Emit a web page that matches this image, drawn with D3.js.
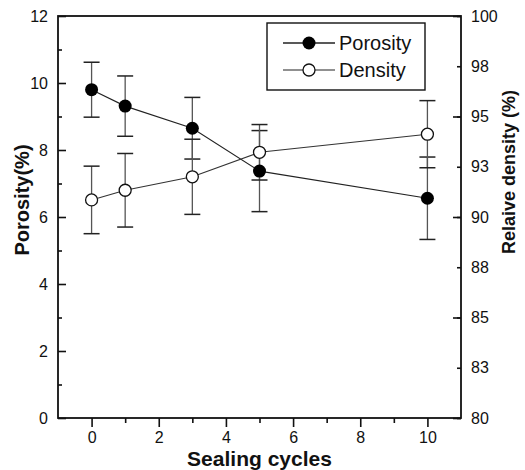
<!DOCTYPE html>
<html><head><meta charset="utf-8">
<script src="https://cdn.jsdelivr.net/npm/d3@7/dist/d3.min.js"></script>
<style>
html,body{margin:0;padding:0;background:#fff;}
svg{display:block;font-family:"Liberation Sans",Arial,sans-serif;}
</style></head>
<body><svg id="chart" width="525" height="470"></svg>
<script>
const cycles = [0, 1, 3, 5, 10];
const porosity = [9.8, 9.31, 8.65, 7.37, 6.56];
const porosityErr = [0.82, 0.9, 0.92, 1.21, 1.23];
const density = [90.85, 91.33, 92.0, 93.22, 94.12];
const densityErr = [1.68, 1.83, 1.87, 1.38, 1.67];
const xTickValues = [0, 2, 4, 6, 8, 10];
const xMinorValues = [1, 3, 5, 7, 9];
const leftTickValues = [0, 2, 4, 6, 8, 10, 12];
const leftMinorValues = [1, 3, 5, 7, 9, 11];
const rightTickValues = [80, 82.5, 85, 87.5, 90, 92.5, 95, 97.5, 100];
const rightTickLabels = ["80", "83", "85", "88", "90", "93", "95", "98", "100"];
const rightMajorValues = [80, 85, 90, 95, 100];
const seriesNames = ["Porosity", "Density"];

const W = 525, H = 470;
const m = {left: 58, right: 64, top: 16, bottom: 52};
const svg = d3.select("#chart");
const x = d3.scaleLinear().domain([-1, 11]).range([m.left, W - m.right]);
const yL = d3.scaleLinear().domain([0, 12]).range([H - m.bottom, m.top]);
const yR = d3.scaleLinear().domain([80, 100]).range([H - m.bottom, m.top]);

const ink = "#111";
function styleAxis(g){
  g.select(".domain").remove();
  g.selectAll(".tick line").attr("stroke", ink).attr("stroke-width", 1.6);
  g.selectAll(".tick text").attr("fill", ink).attr("font-size", 16)
   .attr("font-family", '"Liberation Sans", Arial, sans-serif');
}

// frame
svg.append("rect").attr("x", m.left).attr("y", m.top)
  .attr("width", W - m.left - m.right).attr("height", H - m.top - m.bottom)
  .attr("fill", "none").attr("stroke", ink).attr("stroke-width", 1.8);

// x axis
svg.append("g").attr("transform", `translate(0,${H - m.bottom})`)
  .call(d3.axisBottom(x).tickValues(xTickValues).tickSize(9).tickPadding(5).tickFormat(d3.format("d")))
  .call(styleAxis);
svg.append("g").attr("transform", `translate(0,${H - m.bottom})`)
  .call(d3.axisBottom(x).tickValues(xMinorValues).tickSize(5).tickFormat(""))
  .call(styleAxis);

// left axis
svg.append("g").attr("transform", `translate(${m.left},0)`)
  .call(d3.axisLeft(yL).tickValues(leftTickValues).tickSizeInner(-8).tickSizeOuter(0).tickPadding(10).tickFormat(d3.format("d")))
  .call(styleAxis);
svg.append("g").attr("transform", `translate(${m.left},0)`)
  .call(d3.axisLeft(yL).tickValues(leftMinorValues).tickSizeInner(-4).tickSizeOuter(0).tickFormat(""))
  .call(styleAxis);

// right axis
svg.append("g").attr("transform", `translate(${W - m.right},0)`)
  .call(d3.axisRight(yR).tickValues(rightTickValues).tickSizeInner(-4).tickSizeOuter(0).tickPadding(10)
    .tickFormat((d, i) => rightTickLabels[i]))
  .call(styleAxis);
svg.append("g").attr("transform", `translate(${W - m.right},0)`)
  .call(d3.axisRight(yR).tickValues(rightMajorValues).tickSizeInner(-8).tickSizeOuter(0).tickFormat(""))
  .call(styleAxis);

// axis titles
svg.append("text").attr("x", (m.left + W - m.right) / 2).attr("y", 466)
  .attr("text-anchor", "middle").attr("font-weight", "bold").attr("font-size", 21)
  .attr("font-family", "Arial, 'Liberation Sans', sans-serif").attr("fill", ink).text("Sealing cycles");
svg.append("text").attr("transform", "translate(29,200) rotate(-90)")
  .attr("text-anchor", "middle").attr("font-weight", "bold").attr("font-size", 20)
  .attr("fill", ink).text("Porosity(%)");
svg.append("text").attr("transform", "translate(515,172) rotate(-90)")
  .attr("text-anchor", "middle").attr("font-weight", "bold").attr("font-size", 18)
  .attr("fill", ink).text("Relaive density (%)");

const porData = cycles.map((c, i) => ({x: c, y: porosity[i], e: porosityErr[i]}));
const denData = cycles.map((c, i) => ({x: c, y: density[i], e: densityErr[i]}));

function drawErr(data, ys){
  const g = svg.append("g");
  g.selectAll("line.v").data(data).join("line")
    .attr("x1", d => x(d.x)).attr("x2", d => x(d.x))
    .attr("y1", d => ys(d.y + d.e)).attr("y2", d => ys(d.y - d.e))
    .attr("stroke", "#555").attr("stroke-width", 1.3);
  [1, -1].forEach(s => {
    g.selectAll(null).data(data).join("line")
      .attr("x1", d => x(d.x) - 8).attr("x2", d => x(d.x) + 8)
      .attr("y1", d => ys(d.y + s * d.e)).attr("y2", d => ys(d.y + s * d.e))
      .attr("stroke", "#222").attr("stroke-width", 1.5);
  });
}
drawErr(porData, yL);
drawErr(denData, yR);

const lineL = d3.line().x(d => x(d.x)).y(d => yL(d.y));
const lineR = d3.line().x(d => x(d.x)).y(d => yR(d.y));
svg.append("path").attr("d", lineL(porData)).attr("fill", "none").attr("stroke", "#222").attr("stroke-width", 1.1);
svg.append("path").attr("d", lineR(denData)).attr("fill", "none").attr("stroke", "#333").attr("stroke-width", 1.1);

svg.append("g").selectAll("circle").data(porData).join("circle")
  .attr("cx", d => x(d.x)).attr("cy", d => yL(d.y)).attr("r", 6.5).attr("fill", "#000");
svg.append("g").selectAll("circle").data(denData).join("circle")
  .attr("cx", d => x(d.x)).attr("cy", d => yR(d.y)).attr("r", 6).attr("fill", "#fff")
  .attr("stroke", "#111").attr("stroke-width", 1.3);

// legend
const lg = svg.append("g");
lg.append("rect").attr("x", 267).attr("y", 23).attr("width", 158).attr("height", 67)
  .attr("fill", "#fff").attr("stroke", ink).attr("stroke-width", 1.4);
const rows = [43, 70];
seriesNames.forEach((name, i) => {
  const yy = rows[i];
  lg.append("line").attr("x1", 283).attr("x2", 335).attr("y1", yy).attr("y2", yy)
    .attr("stroke", "#222").attr("stroke-width", i === 0 ? 1.4 : 1.1);
  lg.append("circle").attr("cx", 309).attr("cy", yy).attr("r", i === 0 ? 6.5 : 6)
    .attr("fill", i === 0 ? "#000" : "#fff").attr("stroke", "#111").attr("stroke-width", i === 0 ? 0 : 1.3);
  lg.append("text").attr("x", 339).attr("y", yy + 7).attr("font-size", 20).attr("fill", ink).text(name);
});
</script></body></html>
